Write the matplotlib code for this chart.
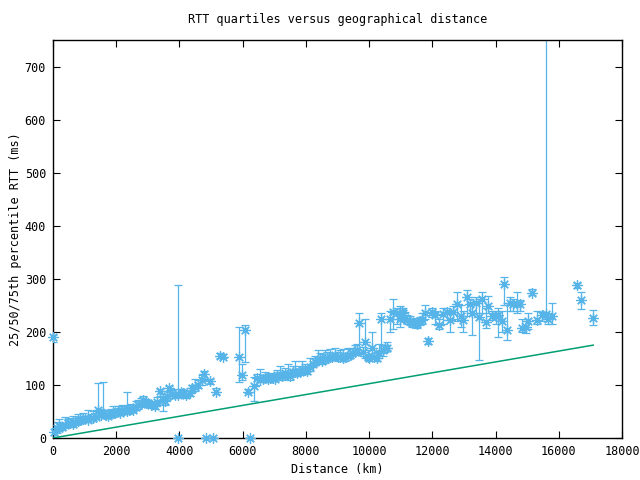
import numpy as np
import matplotlib
matplotlib.use("Agg")
import matplotlib.pyplot as plt

# distance (km), 25th / 50th / 75th percentile RTT (ms)
dist = [0, 30, 120, 200, 300, 380, 460, 540, 620, 700, 780, 860, 940, 1020, 1120,
        1200, 1275, 1350, 1430, 1510, 1590, 1670, 1750, 1830, 1900, 1960, 2050, 2120,
        2170, 2250, 2330, 2420, 2480, 2540, 2620, 2700, 2780, 2855, 2940, 3015, 3100,
        3225, 3300, 3385, 3490, 3540, 3600, 3680, 3750, 3860, 3950, 3965, 4050, 4120,
        4220, 4330, 4385, 4490, 4596, 4700, 4786, 4840, 4965, 5060, 5155, 5280, 5385,
        5890, 5990, 6080, 6180, 6230, 6360, 6460, 6550, 6640, 6720, 6800, 6880, 6960,
        7020, 7100, 7180, 7260, 7340, 7420, 7500, 7580, 7655, 7730, 7810, 7890, 7970,
        8050, 8130, 8210, 8290, 8370, 8445, 8520, 8600, 8680, 8760, 8840, 8920, 9000,
        9080, 9160, 9235, 9320, 9395, 9470, 9550, 9620, 9690, 9795, 9880, 9950, 10005,
        10100, 10170, 10240, 10300, 10375, 10440, 10500, 10560, 10660, 10765, 10870,
        10975, 11030, 11080, 11135, 11190, 11290, 11350, 11450, 11500, 11610, 11680,
        11765, 11870, 11980, 12080, 12220, 12345, 12450, 12555, 12660, 12790, 12900,
        12980, 13085, 13190, 13270, 13380, 13485, 13580, 13685, 13770, 13895, 14000,
        14090, 14190, 14275, 14370, 14455, 14560, 14665, 14770, 14840, 14960, 15030,
        15160, 15300, 15455, 15580, 15665, 15770, 16585, 16690, 17090]
q25 = [180, 5, 10, 14, 15, 18, 20, 22, 20, 25, 26, 28, 30, 32, 30,
       33, 35, 36, 42, 40, 40, 38, 37, 40, 42, 42, 44, 45,
       46, 46, 47, 48, 50, 50, 52, 55, 58, 65, 60, 58, 56,
       55, 62, 80, 50, 62, 72, 86, 75, 76, 0, 78, 80, 78,
       76, 80, 86, 88, 94, 100, 112, 0, 102, 0, 82, 150, 150,
       106, 110, 144, 84, 0, 70, 100, 105, 108, 106, 108, 107, 110,
       108, 112, 113, 110, 115, 113, 110, 118, 118, 116, 118, 122, 124,
       120, 126, 135, 138, 140, 142, 140, 142, 145, 147, 148, 150, 146,
       148, 145, 146, 150, 150, 155, 156, 158, 160, 155, 150, 148, 145,
       150, 148, 145, 150, 160, 155, 162, 165, 200, 205, 215,
       210, 225, 220, 218, 215, 212, 210, 210, 208, 212, 215,
       225, 178, 228, 215, 205, 215, 222, 200, 225, 220, 210,
       200, 230, 235, 195, 235, 147, 235, 208, 235, 222, 215,
       190, 200, 250, 185, 240, 240, 235, 240, 200, 198, 205,
       270, 215, 220, 225, 215, 215, 283, 243, 212]
q50 = [190, 12, 18, 22, 20, 25, 28, 28, 26, 31, 32, 33, 35, 36, 34,
       38, 37, 40, 53, 44, 47, 43, 41, 45, 48, 47, 50, 48,
       50, 52, 50, 53, 55, 53, 58, 62, 65, 72, 66, 66, 62,
       60, 68, 88, 72, 69, 79, 94, 82, 81, 0, 81, 86, 85,
       81, 85, 94, 96, 100, 110, 121, 0, 107, 0, 87, 155, 153,
       153, 119, 204, 87, 0, 98, 113, 112, 112, 113, 112, 113, 114,
       112, 118, 119, 116, 122, 120, 117, 124, 125, 122, 125, 128, 129,
       127, 133, 140, 144, 147, 148, 145, 148, 150, 153, 152, 156, 152,
       153, 150, 152, 155, 156, 160, 162, 165, 217, 162, 181, 153, 150,
       170, 152, 150, 160, 224, 165, 170, 170, 224, 238, 235,
       224, 238, 235, 226, 222, 221, 216, 217, 215, 220, 222,
       235, 183, 238, 232, 213, 234, 238, 222, 238, 252, 230,
       222, 265, 252, 236, 255, 228, 261, 219, 249, 230, 230,
       232, 221, 291, 204, 255, 252, 253, 252, 207, 209, 221,
       274, 223, 231, 233, 225, 230, 288, 260, 226]
q75 = [195, 20, 30, 35, 28, 40, 35, 38, 42, 38, 45, 40, 48, 42, 52,
       45, 50, 48, 104, 55, 106, 52, 50, 55, 60, 55, 60, 57,
       62, 60, 87, 62, 65, 62, 70, 72, 75, 80, 74, 72, 70,
       68, 78, 93, 82, 78, 88, 98, 90, 92, 0, 289, 92, 90,
       88, 94, 100, 112, 110, 118, 126, 0, 112, 0, 95, 160, 158,
       210, 140, 213, 92, 0, 115, 120, 130, 118, 125, 120, 122, 120,
       118, 128, 135, 125, 132, 140, 128, 135, 145, 130, 135, 145, 140,
       135, 150, 150, 155, 165, 160, 158, 165, 162, 168, 160, 170, 162,
       165, 168, 160, 170, 168, 170, 175, 178, 236, 172, 225, 165, 158,
       200, 160, 162, 178, 235, 175, 175, 180, 240, 262, 245,
       248, 245, 245, 238, 232, 230, 225, 226, 222, 228, 235,
       250, 188, 245, 240, 225, 245, 245, 240, 248, 275, 250,
       240, 278, 262, 256, 265, 262, 275, 245, 268, 240, 240,
       245, 240, 304, 255, 265, 262, 275, 260, 225, 220, 235,
       280, 240, 238, 1500, 235, 255, 293, 275, 242]

# lower bound line (minimum possible RTT)
bound_dist = [0, 17090]
bound_rtt = [0, 175]

blue = "#56B4E9"
green = "#009E73"

plt.rcParams['font.family'] = ['DejaVu Sans Mono']
plt.rcParams['font.size'] = 8.5

fig = plt.figure(figsize=(6.4, 4.8), dpi=100)
ax = fig.add_axes([53 / 640, 1 - 438 / 480, 569 / 640, 398 / 480])

d = np.array(dist)
lo = np.array(q25)
med = np.array(q50)
hi = np.array(q75)
ax.errorbar(d, med, yerr=[med - lo, hi - med], fmt='none', ecolor=blue,
            elinewidth=0.9, capsize=3.2, capthick=0.9, zorder=2)
ax.plot(d, med, linestyle='none', marker=(8, 2, 0), markersize=7.5,
        markeredgewidth=0.9, color=blue, zorder=3, clip_on=False)
ax.plot(bound_dist, bound_rtt, color=green, linewidth=1.1, zorder=4)

ax.set_xlim(0, 18000)
ax.set_ylim(0, 750)
ax.set_xticks(np.arange(0, 18001, 2000))
ax.set_yticks(np.arange(0, 701, 100))
ax.tick_params(direction='in', top=True, right=True, length=5, width=0.8, pad=5)
for s in ax.spines.values():
    s.set_linewidth(1.0)

ax.set_title("RTT quartiles versus geographical distance", fontsize=8.5, pad=12)
ax.set_xlabel("Distance (km)", labelpad=4)
ax.set_ylabel("25/50/75th percentile RTT (ms)", labelpad=2)

fig.savefig("out.png", dpi=100)
